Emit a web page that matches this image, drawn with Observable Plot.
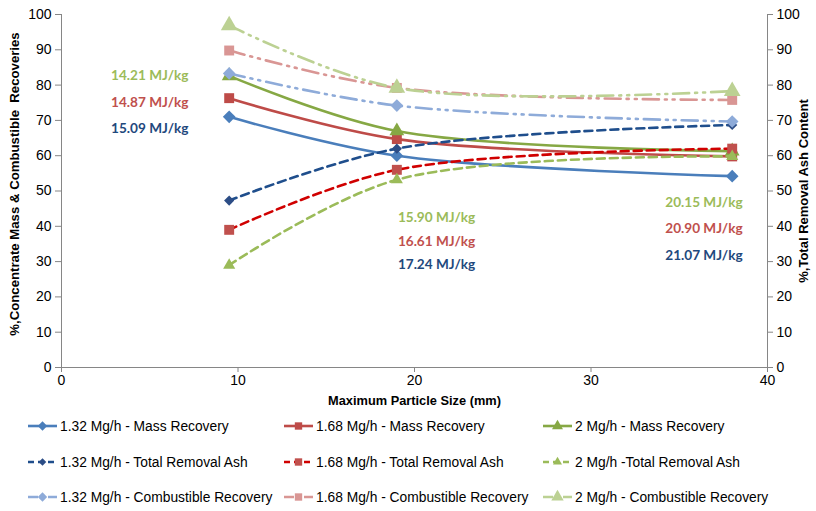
<!DOCTYPE html>
<html><head><meta charset="utf-8">
<script src="https://cdn.jsdelivr.net/npm/d3@7"></script>
<script src="https://cdn.jsdelivr.net/npm/@observablehq/plot@0.6"></script>
<style>
body{margin:0;background:#fff;}
#wrap{position:relative;width:816px;height:511px;font-family:"Liberation Sans",Arial,sans-serif;background:#fff;}
.leg{position:absolute;display:flex;align-items:center;font-size:13.8px;color:#000;white-space:nowrap;height:16px;}
.leg svg{margin-right:2px;display:block}
#chart svg [aria-label="x-axis tick"], #chart svg [aria-label="y-axis tick"]{stroke:#868686;}
</style></head>
<body><div id="wrap"><div id="chart"></div></div>
<script>
// ---- data ----
const particleSize = [9.5, 19, 38];
const mass132 = [71.0, 60.0, 54.2];
const mass168 = [76.3, 64.7, 59.8];
const mass2   = [82.6, 67.0, 61.3];
const ash132  = [47.3, 62.0, 68.7];
const ash168  = [39.0, 56.0, 62.0];
const ash2    = [29.0, 53.2, 59.8];
const comb132 = [83.3, 74.2, 69.7];
const comb168 = [89.8, 79.2, 75.8];
const comb2   = [96.9, 79.2, 78.3];
const seriesNames = [
  "1.32 Mg/h - Mass Recovery", "1.68 Mg/h - Mass Recovery", "2 Mg/h - Mass Recovery",
  "1.32 Mg/h - Total Removal Ash", "1.68 Mg/h - Total Removal Ash", "2 Mg/h -Total Removal Ash",
  "1.32 Mg/h - Combustible Recovery", "1.68 Mg/h - Combustible Recovery", "2 Mg/h - Combustible Recovery"
];
const seriesValues = [mass132, mass168, mass2, ash132, ash168, ash2, comb132, comb168, comb2];
const xTicks = [0, 10, 20, 30, 40];
const yTicks = [0, 10, 20, 30, 40, 50, 60, 70, 80, 90, 100];
const annotLabels = ["14.21 MJ/kg", "14.87 MJ/kg", "15.09 MJ/kg",
                     "15.90 MJ/kg", "16.61 MJ/kg", "17.24 MJ/kg",
                     "20.15 MJ/kg", "20.90 MJ/kg", "21.07 MJ/kg"];
const annotX = [5.0, 5.0, 5.0, 21.25, 21.25, 21.25, 36.4, 36.4, 36.4];
const annotY = [82.7, 75.1, 67.7, 42.5, 35.7, 29.2, 46.7, 39.4, 31.7];
const yLeftLabel = "%,Concentrate Mass & Combustible  Recoveries";
const yRightLabel = "%,Total Removal Ash Content";
const xLabel = "Maximum Particle Size (mm)";

// ---- styles ----
const styles = [
  {color:"#4A7EBB", mcolor:"#4A7EBB", dash:null, symbol:"diamond2", r:5.7},
  {color:"#BE4B48", mcolor:"#BE4B48", dash:null, symbol:"square", r:5.6},
  {color:"#86A844", mcolor:"#86A844", dash:null, symbol:"triangle", r:5.5},
  {color:"#1F4E8C", mcolor:"#2C4D86", dash:"8,5", symbol:"diamond2", r:4.6},
  {color:"#D00000", mcolor:"#C0504D", dash:"8,5", symbol:"square", r:5.6},
  {color:"#9BBB59", mcolor:"#9BBB59", dash:"8,5", symbol:"triangle", r:4.5},
  {color:"#8EABD9", mcolor:"#8EABD9", dash:"16,6,2,6,2,6", symbol:"diamond2", r:5.7},
  {color:"#D99694", mcolor:"#D99694", dash:"16,6,2,6,2,6", symbol:"square", r:5.6},
  {color:"#BCD193", mcolor:"#BCD193", dash:"16,6,2,6,2,6", symbol:"triangle", r:6.2}
];
const annotColors = ["#9BBB59","#C0504D","#1F497D","#9BBB59","#C0504D","#1F497D","#9BBB59","#C0504D","#1F497D"];

const marks = [
  Plot.ruleY([0], {stroke:"#868686"}),
  Plot.ruleX([0], {stroke:"#868686"}),
  Plot.ruleX([40], {stroke:"#868686"}),
  Plot.axisX({ticks: xTicks, tickSize:5, tickPadding:3, label:null, fontSize:14}),
  Plot.axisY({anchor:"left", ticks: yTicks, tickSize:6, tickPadding:4, label:null, fontSize:14}),
  Plot.axisY({anchor:"right", ticks: yTicks, tickSize:5, tickPadding:4, label:null, fontSize:14}),
  Plot.text([yLeftLabel], {frameAnchor:"left", textAnchor:"middle", rotate:-90, dx:-47, dy:-7, fontWeight:"bold", fontSize:13.2, fill:"#000"}),
  Plot.text([yRightLabel], {frameAnchor:"right", textAnchor:"middle", rotate:-90, dx:36, fontWeight:"bold", fontSize:13, fill:"#000"}),
  Plot.text([xLabel], {frameAnchor:"bottom", dy:37, fontWeight:"bold", fontSize:12.8, fill:"#000"})
];
seriesValues.forEach((vals, i) => {
  const s = styles[i];
  const d = particleSize.map((x, j) => ({x, y: vals[j]}));
  marks.push(Plot.line(d, {x:"x", y:"y", stroke:s.color, strokeWidth:2.6, strokeDasharray:s.dash, curve:"catmull-rom"}));
  marks.push(Plot.dot(d, {x:"x", y:"y", symbol:s.symbol, r:s.r, fill:s.mcolor, stroke:"none"}));
});
const annots = annotLabels.map((t, i) => ({t, x: annotX[i], y: annotY[i], c: annotColors[i]}));
marks.push(Plot.text(annots, {x:"x", y:"y", text:"t", fill:"c", fontWeight:"bold", fontFamily:"Lato, 'Open Sans', sans-serif", fontSize:13.6}));

const chart = Plot.plot({
  width: 816, height: 410,
  marginLeft: 61, marginRight: 49, marginTop: 14, marginBottom: 43,
  style: {fontFamily:"'Liberation Sans', Arial, sans-serif", fontSize:"14px", background:"#fff", color:"#000"},
  x: {domain:[0, 40]},
  y: {domain:[0, 100]},
  marks
});
document.getElementById("chart").appendChild(chart);

// ---- legend ----
const wrap = document.getElementById("wrap");
const colLeft = [27, 283, 542];
const rowCenter = [426, 462, 497];
seriesNames.forEach((name, i) => {
  const s = styles[i];
  const row = Math.floor(i / 3), col = i % 3;
  const item = document.createElement("div");
  item.className = "leg";
  item.style.left = colLeft[col] + "px";
  item.style.top = (rowCenter[row] - 8) + "px";
  const sw = d3.create("svg").attr("width", 31).attr("height", 16);
  sw.append("line").attr("x1", 1).attr("x2", 30).attr("y1", 8).attr("y2", 8)
    .attr("stroke", s.color).attr("stroke-width", 2.6)
    .attr("stroke-dasharray", s.dash ? (i >= 6 ? "10,4,2,4" : "6,4") : null);
  const symMap = {diamond2: d3.symbolDiamond2, square: d3.symbolSquare, triangle: d3.symbolTriangle};
  sw.append("path").attr("transform", "translate(15.5,8)")
    .attr("d", d3.symbol(symMap[s.symbol], s.r * s.r * Math.PI * 0.55)())
    .attr("fill", s.mcolor);
  item.appendChild(sw.node());
  const span = document.createElement("span");
  span.textContent = name;
  item.appendChild(span);
  wrap.appendChild(item);
});
</script>
</body></html>
